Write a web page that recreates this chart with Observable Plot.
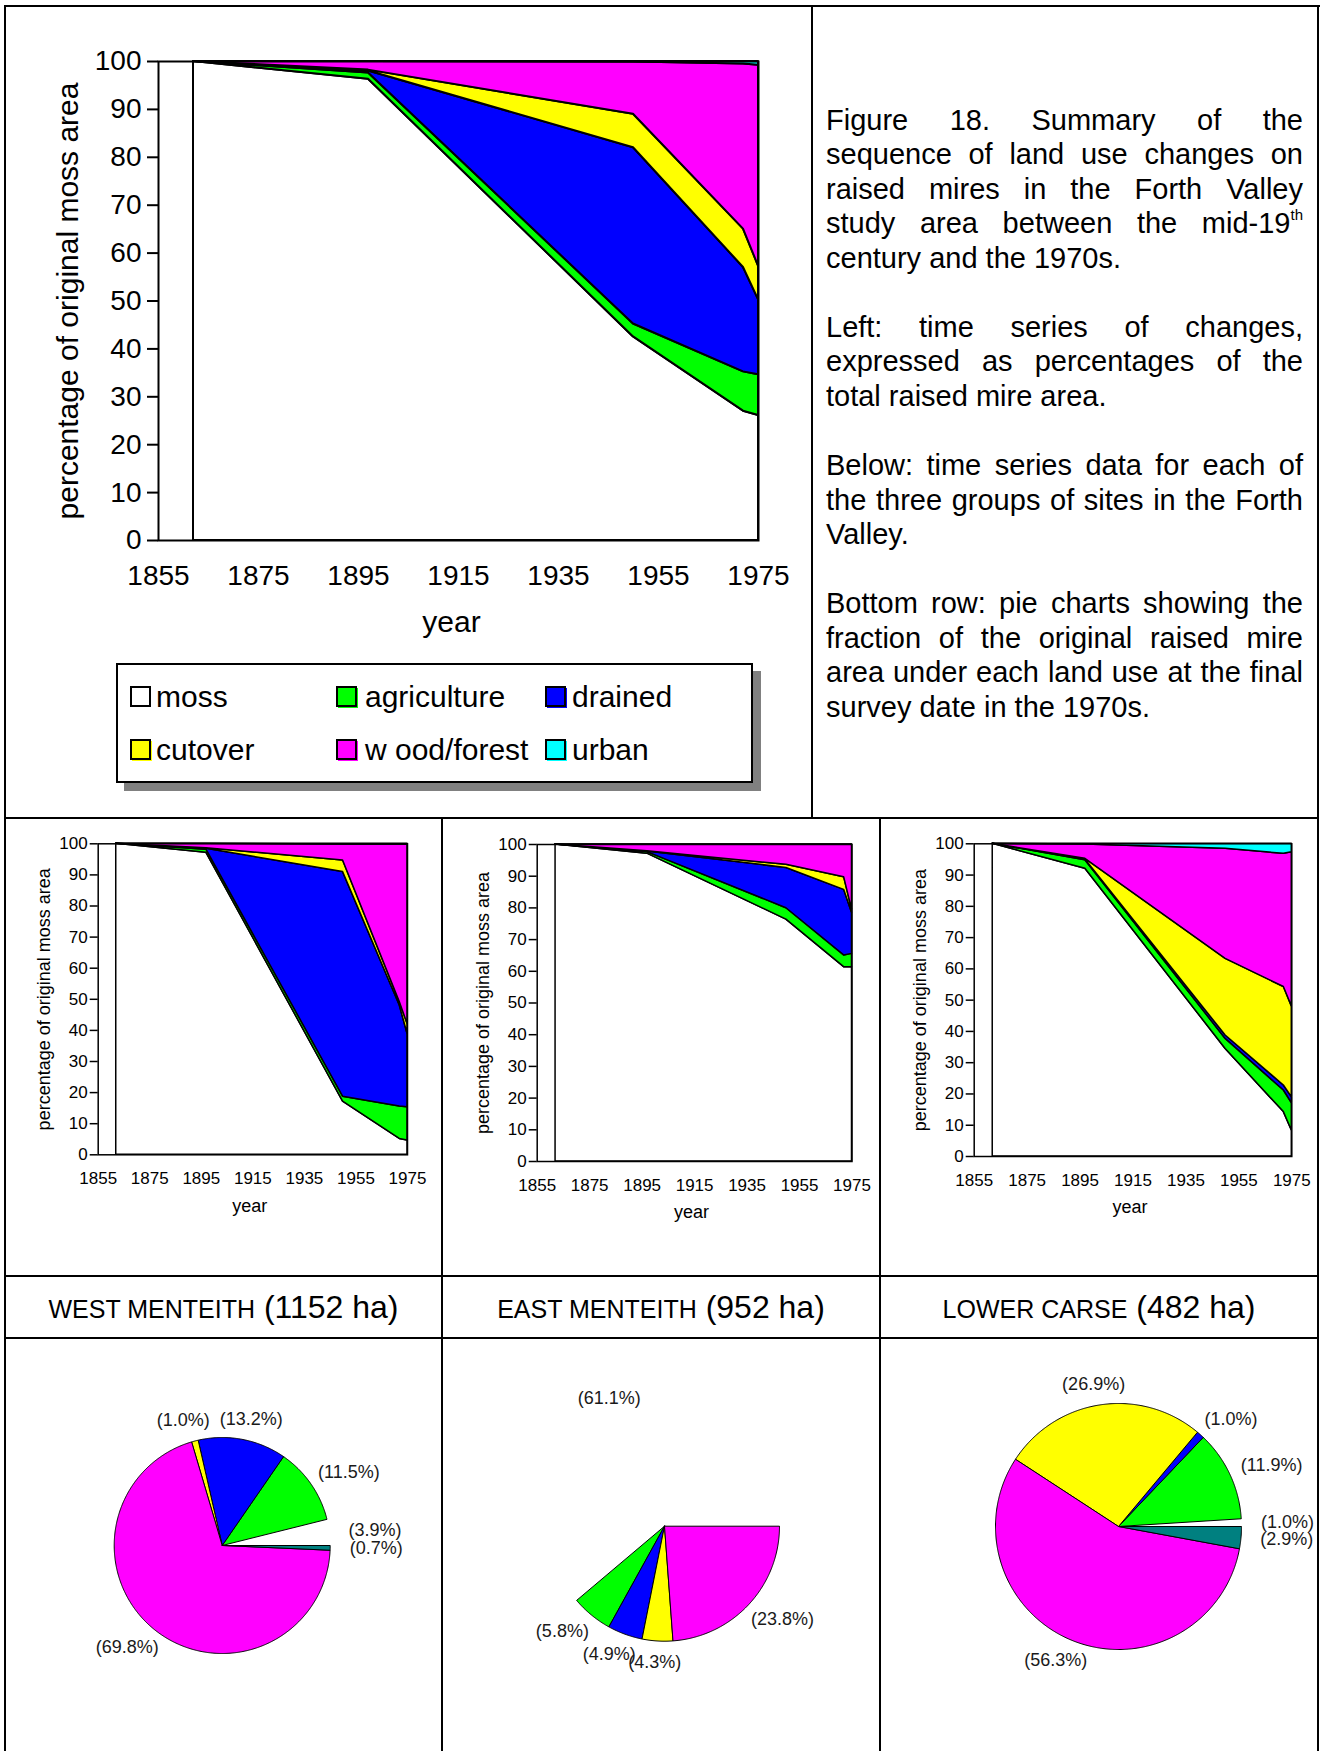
<!DOCTYPE html>
<html>
<head>
<meta charset="utf-8">
<script src="https://cdn.jsdelivr.net/npm/d3@7"></script>
<script src="https://cdn.jsdelivr.net/npm/@observablehq/plot@0.6"></script>
<style>
  body { margin: 0; background: #fff; }
  #page { position: relative; width: 1322px; height: 1751px; overflow: hidden; background: #fff;
          font-family: 'Liberation Sans', Arial, Helvetica, sans-serif; color: #000; }
  .ln { position: absolute; background: #000; }
  .txt { position: absolute; left: 826px; top: 102.5px; width: 477px; font-size: 29px; line-height: 34.55px; }
  .txt div { text-align: justify; text-align-last: justify; height: 34.55px; }
  .txt div.last { text-align: left; text-align-last: left; }
  .title { position: absolute; top: 1277px; height: 60px; line-height: 60px; font-size: 32px; text-align: center; white-space: nowrap; }
  .title span.n { font-size: 25px; }
</style>
</head>
<body>
<div id="page"></div>
<script>
// ---------------- DATA ----------------
const years = [1862, 1897, 1950, 1972, 1975];
const landUses = ["moss", "agriculture", "drained", "cutover", "wood/forest", "urban"];
const legendNames = ["moss", "agriculture", "drained", "cutover", "w ood/forest", "urban"];
const seriesColors = ["#ffffff", "#00ff00", "#0000ff", "#ffff00", "#ff00ff", "#00ffff"];
const pieSliceColors = ["#ffffff", "#00ff00", "#0000ff", "#ffff00", "#ff00ff", "#008080"];
const xTicks = [1855, 1875, 1895, 1915, 1935, 1955, 1975];
const yTicks = [0, 10, 20, 30, 40, 50, 60, 70, 80, 90, 100];
const yTitle = "percentage of original moss area";
const xTitle = "year";

// Whole Forth Valley (percent of original moss area, at `years`)
const allMoss        = [100, 96.3, 42.5, 27.0, 26.1];
const allAgriculture = [0, 1.3, 2.7, 8.2, 8.5];
const allDrained     = [0, 0.4, 36.8, 21.8, 15.7];
const allCutover     = [0, 0.2, 7.0, 8.0, 7.0];
const allWood        = [0, 1.8, 10.9, 34.5, 41.9];
const allUrban       = [0, 0, 0.1, 0.5, 0.8];

// West Menteith
const westMoss        = [100, 97.1, 17.1, 5.1, 4.6];
const westAgriculture = [0, 1.0, 1.6, 10.4, 10.7];
const westDrained     = [0, 0.3, 72.2, 32.5, 23.6];
const westCutover     = [0, 0.2, 3.7, 1.1, 3.2];
const westWood        = [0, 1.4, 5.2, 50.7, 57.7];
const westUrban       = [0, 0, 0.2, 0.2, 0.2];

// East Menteith
const eastMoss        = [100, 97.1, 76.3, 61.3, 61.3];
const eastAgriculture = [0, 0.5, 3.6, 3.7, 4.2];
const eastDrained     = [0, 0.2, 12.7, 20.7, 13.0];
const eastCutover     = [0, 0.1, 1.0, 4.0, 1.0];
const eastWood        = [0, 2.1, 6.4, 10.3, 20.5];
const eastUrban       = [0, 0, 0, 0, 0];

// Lower Carse
const lowerMoss        = [100, 92.0, 34.4, 14.2, 8.3];
const lowerAgriculture = [0, 2.7, 3.2, 6.9, 8.8];
const lowerDrained     = [0, 0.3, 1.1, 1.6, 1.9];
const lowerCutover     = [0, 0.2, 24.5, 31.5, 29.0];
const lowerWood        = [0, 4.6, 35.2, 42.6, 49.3];
const lowerUrban       = [0, 0.2, 1.6, 3.2, 2.7];

// Groups and final-survey pie fractions (same order as landUses)
const groupNames = ["WEST MENTEITH", "EAST MENTEITH", "LOWER CARSE"];
const groupAreas = ["(1152 ha)", "(952 ha)", "(482 ha)"];
const westPie  = [3.9, 11.5, 13.2, 1.0, 69.8, 0.7];
const eastPie  = [61.1, 5.8, 4.9, 4.3, 23.8, 0];
const lowerPie = [1.0, 11.9, 1.0, 26.9, 56.3, 2.9];

// ---------------- LAYOUT / DRAWING ----------------
const FONT = "'Liberation Sans', Arial, Helvetica, sans-serif";
const page = document.getElementById("page");
function place(el, left, top) {
  el.style.position = "absolute"; el.style.left = left + "px"; el.style.top = top + "px";
  page.appendChild(el); return el;
}

function stackChart(series, L) {
  const data = series.flatMap((vals, k) => years.map((year, j) => ({year, landuse: landUses[k], value: vals[j]})));
  return Plot.plot({
    width: L.width, height: L.height,
    marginLeft: L.left, marginRight: L.width - L.right, marginTop: L.top, marginBottom: L.height - L.bottom,
    style: {fontFamily: FONT, fontSize: L.tickFont + "px", color: "#000", background: "transparent", overflow: "visible"},
    x: {type: "linear", domain: [xTicks[0], xTicks[xTicks.length - 1]]},
    y: {type: "linear", domain: [yTicks[0], yTicks[yTicks.length - 1]]},
    color: {type: "ordinal", domain: landUses, range: seriesColors},
    marks: [
      Plot.areaY(data, {x: "year", y: "value", fill: "landuse", order: landUses,
        stroke: "#000", strokeWidth: L.sw, strokeLinejoin: "round"}),
      Plot.frame({stroke: "#000", strokeWidth: L.sw}),
      Plot.axisY({ticks: yTicks, tickSize: L.yTickSize, tickPadding: L.yTickPad, strokeWidth: L.sw,
        fontSize: L.tickFont, label: null}),
      Plot.axisX({ticks: xTicks, tickSize: 0, tickPadding: L.xTickPad, tickFormat: d => String(d),
        fontSize: L.tickFont, label: null}),
      Plot.text([yTitle], {text: d => d, frameAnchor: "left", rotate: -90, dx: L.yTitleDx,
        textAnchor: "middle", lineAnchor: "middle", fontSize: L.titleFont}),
      Plot.text([xTitle], {text: d => d, frameAnchor: "bottom", dy: L.xTitleDy, dx: L.xTitleDx,
        textAnchor: "middle", lineAnchor: "middle", fontSize: L.titleFont})
    ]
  });
}

function pieChart(values, P) {
  const total = d3.sum(values);
  let acc = 0;
  const slices = values.map((v, i) => {
    const a0 = acc / total * 2 * Math.PI; acc += v; const a1 = acc / total * 2 * Math.PI;
    return {i, v, a0, a1, m: (a0 + a1) / 2, label: "(" + v.toFixed(1) + "%)"};
  }).filter(s => s.v > 0);
  const r = P.r, g = 12, wHalf = 34, hHalf = 9;
  const marks = slices.filter(s => s.i !== 0).map(s => {
    const n = Math.max(2, Math.ceil((s.a1 - s.a0) / (Math.PI / 360)));
    const pts = [[0, 0]];
    for (let k = 0; k <= n; k++) {
      const a = s.a0 + (s.a1 - s.a0) * k / n;
      pts.push([Math.cos(a), Math.sin(a)]);
    }
    pts.push([0, 0]);
    return Plot.line(pts, {x: d => d[0], y: d => d[1], fill: pieSliceColors[s.i],
      stroke: "#000", strokeWidth: 1, strokeLinejoin: "round"});
  });
  marks.push(Plot.text(slices, {
    x: s => Math.cos(s.m) * (r + g + wHalf) / r,
    y: s => Math.sin(s.m) * (r + g + hHalf) / r,
    text: "label", fontSize: 18, fill: "#1a1a1a", textAnchor: "middle", lineAnchor: "middle"
  }));
  return Plot.plot({
    width: P.width, height: P.height, margin: 0,
    style: {fontFamily: FONT, background: "transparent", overflow: "visible"},
    x: {type: "linear", axis: null, domain: [-P.cx / r, (P.width - P.cx) / r], range: [0, P.width]},
    y: {type: "linear", axis: null, domain: [-(P.height - P.cy) / r, P.cy / r], range: [P.height, 0]},
    marks
  });
}

// Main chart
place(stackChart([allMoss, allAgriculture, allDrained, allCutover, allWood, allUrban], {
  width: 812, height: 650, left: 158, right: 758, top: 61, bottom: 540,
  tickFont: 28, titleFont: 30, sw: 2, yTickSize: 11, yTickPad: 6, xTickPad: 25, yTitleDx: -90, xTitleDy: 82, xTitleDx: -7
}), 0, 0);

// Group charts
const small = {tickFont: 17, titleFont: 18, sw: 1.5, yTickSize: 8, yTickPad: 2.5, xTickPad: 17.5, yTitleDx: -54, xTitleDy: 51, xTitleDx: -3};
place(stackChart([westMoss, westAgriculture, westDrained, westCutover, westWood, westUrban],
  {...small, width: 442, height: 440, left: 97.7, right: 407, top: 24.3, bottom: 335.3}), 0, 819);
place(stackChart([eastMoss, eastAgriculture, eastDrained, eastCutover, eastWood, eastUrban],
  {...small, width: 438, height: 440, left: 94.7, right: 409.5, top: 25, bottom: 342}), 442, 819);
place(stackChart([lowerMoss, lowerAgriculture, lowerDrained, lowerCutover, lowerWood, lowerUrban],
  {...small, width: 438, height: 440, left: 93.7, right: 411.3, top: 24.3, bottom: 337}), 880, 819);

// Legend
const legend = document.createElement("div");
legend.style.cssText = "width:633px;height:116px;border:2px solid #000;background:#fff;box-shadow:8px 8px 0 #808080;";
place(legend, 116, 663);
const swX = [130, 336, 545], txX = [156, 365, 572], rowY = [697, 750];
legendNames.forEach((name, k) => {
  const col = k % 3, row = Math.floor(k / 3);
  const under = document.createElement("div");
  under.style.cssText = `width:20px;height:20px;background:${seriesColors[k]};`;
  place(under, swX[col] + 2, rowY[row] - 9);
  const sw = document.createElement("div");
  sw.style.cssText = `width:17px;height:17px;border:2px solid #000;background:${seriesColors[k]};`;
  place(sw, swX[col], rowY[row] - 11);
  const t = document.createElement("div");
  t.style.cssText = "font-size:30px;line-height:30px;white-space:pre;";
  t.textContent = name;
  place(t, txX[col], rowY[row] - 15);
});

// Caption text
const txt = document.createElement("div");
txt.className = "txt";
txt.innerHTML = [
  "<div>Figure 18. Summary of the</div>",
  "<div>sequence of land use changes on</div>",
  "<div>raised mires in the Forth Valley</div>",
  "<div>study area between the mid-19<sup style='font-size:15px;line-height:0;vertical-align:13px'>th</sup></div>",
  "<div class='last'>century and the 1970s.</div>",
  "<div class='last'></div>",
  "<div>Left: time series of changes,</div>",
  "<div>expressed as percentages of the</div>",
  "<div class='last'>total raised mire area.</div>",
  "<div class='last'></div>",
  "<div>Below: time series data for each of</div>",
  "<div>the three groups of sites in the Forth</div>",
  "<div class='last'>Valley.</div>",
  "<div class='last'></div>",
  "<div>Bottom row: pie charts showing the</div>",
  "<div>fraction of the original raised mire</div>",
  "<div>area under each land use at the final</div>",
  "<div class='last'>survey date in the 1970s.</div>"
].join("");
page.appendChild(txt);

// Group titles
const cellL = [6, 443, 881], cellW = [435, 436, 436];
groupNames.forEach((n, k) => {
  const d = document.createElement("div");
  d.className = "title";
  d.style.left = cellL[k] + "px"; d.style.width = cellW[k] + "px";
  d.innerHTML = `<span class="n">${n}</span> ${groupAreas[k]}`;
  page.appendChild(d);
});

// Pies
const pieSpecs = [
  {values: westPie, cx: 221.7 - 6, cy: 1545 - 1339, r: 108},
  {values: eastPie, cx: 664 - 443, cy: 1525.7 - 1339, r: 115},
  {values: lowerPie, cx: 1118 - 881, cy: 1526 - 1339, r: 123}
];
pieSpecs.forEach((p, k) => {
  const wrap = document.createElement("div");
  wrap.style.cssText = `width:${cellW[k]}px;height:412px;overflow:hidden;`;
  wrap.appendChild(pieChart(p.values, {width: cellW[k], height: 412, cx: p.cx, cy: p.cy, r: p.r}));
  place(wrap, cellL[k], 1339);
});

// Table rules
function rule(l, t, w, h) { const d = document.createElement("div"); d.className = "ln";
  d.style.left = l + "px"; d.style.top = t + "px"; d.style.width = w + "px"; d.style.height = h + "px"; page.appendChild(d); }
rule(4, 5, 1316, 2);
rule(4, 5, 2, 1760);
rule(1317, 5, 2, 1760);
rule(811, 5, 2, 813);
rule(4, 817, 1315, 2);
rule(441, 817, 2, 940);
rule(879, 817, 2, 940);
rule(4, 1275, 1315, 2);
rule(4, 1337, 1315, 2);
</script>
</body>
</html>
